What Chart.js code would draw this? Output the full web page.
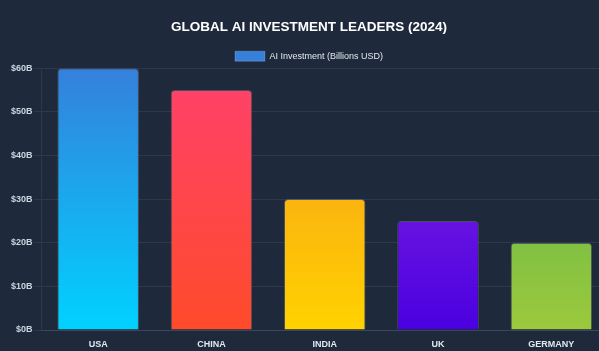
<!DOCTYPE html>
<html>
<head>
<meta charset="utf-8">
<script src="https://cdn.jsdelivr.net/npm/chart.js@4/dist/chart.umd.min.js"></script>
<style>
    html, body { margin: 0; padding: 0; background: #1e293b; overflow: hidden; }
    .chart-wrap { position: relative; width: 618px; height: 351px; }
</style>
</head>
<body>
<div class="chart-wrap"><canvas id="aiChart"></canvas></div>
<script>
// AI investment by country, billions USD
const countries = ['USA', 'CHINA', 'INDIA', 'UK', 'GERMANY'];
const investment = [60, 55, 30, 25, 20];
const yTicks = [0, 10, 20, 30, 40, 50, 60];

// bottom -> top colours of each bar gradient
const gradBottom = ['#00d2ff', '#ff4b2b', '#ffd200', '#4a00e0', '#9cc93c'];
const gradTop = ['#3580db', '#ff416c', '#f7971e', '#8e2de2', '#4caf50'];

function barGradient(context) {
    const chart = context.chart;
    const area = chart.chartArea;
    if (!area) return gradBottom[0];
    const i = context.dataIndex || 0;
    const g = chart.ctx.createLinearGradient(0, area.bottom, 0, area.top);
    g.addColorStop(0, gradBottom[i]);
    g.addColorStop(1, gradTop[i]);
    return g;
}

// legend sits a bit closer to the plot than the default
const tightLegend = {
    id: 'tightLegend',
    beforeInit(chart) {
        const fit = chart.legend.fit;
        chart.legend.fit = function () {
            fit.call(this);
            this.height -= 3;
        };
    }
};

Chart.defaults.font.family = "'Liberation Sans', Arial, sans-serif";

new Chart(document.getElementById('aiChart'), {
    type: 'bar',
    data: {
        labels: countries,
        datasets: [{
            label: 'AI Investment (Billions USD)',
            data: investment,
            backgroundColor: barGradient,
            borderColor: 'rgba(255, 255, 255, 0.18)',
            borderWidth: 1,
            borderRadius: 4
        }]
    },
    options: {
        responsive: true,
        maintainAspectRatio: false,
        animation: false,
        layout: { padding: { top: 10, left: 10, right: 10, bottom: 3 } },
        scales: {
            x: {
                grid: { display: false },
                border: { color: 'rgba(255, 255, 255, 0.08)' },
                ticks: { color: '#e2e8f0', padding: 1, font: { size: 9, weight: 'bold' } },
                afterFit: scale => { scale.height = 18; }
            },
            y: {
                min: 0,
                max: 60,
                afterBuildTicks: axis => { axis.ticks = yTicks.map(v => ({ value: v })); },
                grid: { color: 'rgba(255, 255, 255, 0.07)' },
                border: { color: 'rgba(255, 255, 255, 0.07)' },
                ticks: {
                    color: '#cbd5e1',
                    padding: 1,
                    font: { size: 9, weight: 'bold' },
                    callback: v => '$' + v + 'B'
                }
            }
        },
        plugins: {
            title: {
                display: true,
                text: 'GLOBAL AI INVESTMENT LEADERS (2024)',
                color: '#ffffff',
                font: { size: 13.5, weight: 'bold' },
                padding: { top: 9, bottom: 8 }
            },
            legend: {
                labels: {
                    color: '#e2e8f0',
                    boxWidth: 30,
                    boxHeight: 10,
                    padding: 8,
                    font: { size: 9 }
                }
            },
            tooltip: { enabled: false }
        }
    },
    plugins: [tightLegend]
});
</script>
</body>
</html>
